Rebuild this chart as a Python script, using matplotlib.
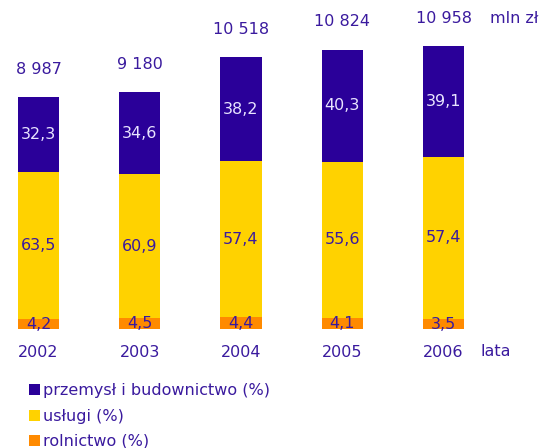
import matplotlib.pyplot as plt
import numpy as np

years = ["2002", "2003", "2004", "2005", "2006"]
totals = [8987, 9180, 10518, 10824, 10958]
total_labels = ["8 987", "9 180", "10 518", "10 824", "10 958"]
rolnictwo = [4.2, 4.5, 4.4, 4.1, 3.5]
uslugi = [63.5, 60.9, 57.4, 55.6, 57.4]
przemysl = [32.3, 34.6, 38.2, 40.3, 39.1]

TEXT = "#3a1a9e"
C_PRZ = "#2a0099"
C_USL = "#ffd200"
C_ROL = "#ff8a00"

plt.rcParams["font.family"] = ["Verdana", "DejaVu Sans"]

fig = plt.figure(figsize=(5.4, 4.48), dpi=100)
ax = fig.add_axes([0, 0, 1, 1])
ax.axis("off")

x = np.arange(len(years))
tot = np.array(totals, dtype=float)
h_rol = tot * np.array(rolnictwo) / 100
h_usl = tot * np.array(uslugi) / 100
h_prz = tot * np.array(przemysl) / 100

w = 0.405
b1 = ax.bar(x, h_rol, w, color=C_ROL, label="rolnictwo (%)")
b2 = ax.bar(x, h_usl, w, bottom=h_rol, color=C_USL, label="usługi (%)")
b3 = ax.bar(x, h_prz, w, bottom=h_rol + h_usl, color=C_PRZ,
            label="przemysł i budownictwo (%)")

fs = 11.5
for i in range(len(years)):
    ax.text(x[i], h_rol[i] / 2, f"{rolnictwo[i]:.1f}".replace(".", ","),
            ha="center", va="center", color=TEXT, fontsize=fs)
    ax.text(x[i], h_rol[i] + h_usl[i] / 2, f"{uslugi[i]:.1f}".replace(".", ","),
            ha="center", va="center", color=TEXT, fontsize=fs)
    ax.text(x[i], h_rol[i] + h_usl[i] + h_prz[i] / 2,
            f"{przemysl[i]:.1f}".replace(".", ","),
            ha="center", va="center", color="#e8e4ff", fontsize=fs)
    ax.annotate(total_labels[i], (x[i], tot[i]), xytext=(0, 28),
                textcoords="offset pixels", ha="center", va="center",
                color=TEXT, fontsize=fs)
    ax.annotate(years[i], (x[i], 0), xytext=(0, -23),
                textcoords="offset pixels", ha="center", va="center",
                color=TEXT, fontsize=fs)

ax.annotate("lata", (x[-1], 0), xytext=(52, -22), textcoords="offset pixels",
            ha="center", va="center", color=TEXT, fontsize=fs)
ax.annotate("mln zł", (x[-1], tot[-1]), xytext=(46, 28),
            textcoords="offset pixels", ha="left", va="center",
            color=TEXT, fontsize=fs)

scale = 232 / 8987
ax.set_ylim(-119 / scale, 329 / scale)
ax.set_xlim(-38.5 / 101.25, (540 - 38.5) / 101.25)

fig.legend(handles=[b3, b2, b1], loc="upper left",
           bbox_to_anchor=(0.0537, 0.144), frameon=False, fontsize=fs,
           labelcolor=TEXT, handlelength=0.69, handleheight=0.69,
           handletextpad=0.2, labelspacing=0.64, borderaxespad=0,
           borderpad=0)

fig.savefig("out.png", dpi=100)
